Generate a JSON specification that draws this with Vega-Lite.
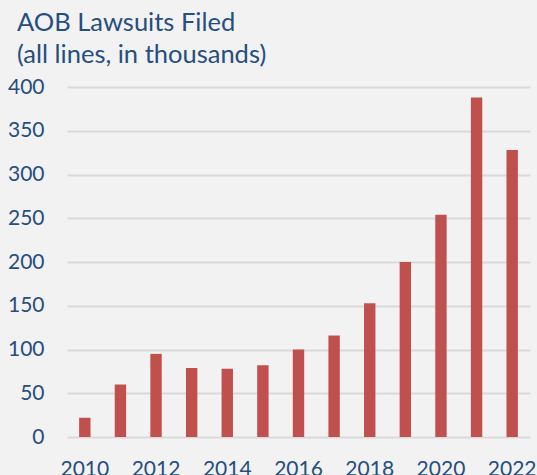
{
  "$schema": "https://vega.github.io/schema/vega-lite/v6.json",
  "autosize": "none",
  "width": 463,
  "height": 350,
  "padding": {"left": 67, "top": 87, "right": 7, "bottom": 38},
  "background": "#F2F2F2",
  "title": {
    "text": ["AOB Lawsuits Filed", "(all lines, in thousands)"],
    "anchor": "start",
    "frame": "group",
    "dx": -50,
    "offset": -12,
    "baseline": "alphabetic",
    "font": "Lato",
    "fontSize": 25.5,
    "fontWeight": "normal",
    "color": "#264E7E",
    "lineHeight": 32
  },
  "data": {
    "values": [
      {"year": 2010, "lawsuits": 22},
      {"year": 2011, "lawsuits": 60},
      {"year": 2012, "lawsuits": 95},
      {"year": 2013, "lawsuits": 79},
      {"year": 2014, "lawsuits": 78},
      {"year": 2015, "lawsuits": 82},
      {"year": 2016, "lawsuits": 100},
      {"year": 2017, "lawsuits": 116},
      {"year": 2018, "lawsuits": 153},
      {"year": 2019, "lawsuits": 200},
      {"year": 2020, "lawsuits": 254},
      {"year": 2021, "lawsuits": 388},
      {"year": 2022, "lawsuits": 328}
    ]
  },
  "mark": {"type": "bar", "color": "#C0504D"},
  "encoding": {
    "x": {
      "field": "year",
      "type": "ordinal",
      "scale": {"paddingInner": 0.68, "paddingOuter": 0.34},
      "axis": {
        "title": null,
        "values": [2010, 2012, 2014, 2016, 2018, 2020, 2022],
        "labelAngle": 0,
        "domain": false,
        "ticks": false,
        "labelPadding": 21,
        "labelFont": "Lato",
        "labelFontSize": 21,
        "labelColor": "#264E7E"
      }
    },
    "y": {
      "field": "lawsuits",
      "type": "quantitative",
      "scale": {"domain": [0, 400]},
      "axis": {
        "title": null,
        "values": [0, 50, 100, 150, 200, 250, 300, 350, 400],
        "domain": false,
        "ticks": false,
        "grid": true,
        "gridColor": "#D9D9D9",
        "gridWidth": 2,
        "labelPadding": 23,
        "labelFont": "Lato",
        "labelFontSize": 21,
        "labelColor": "#264E7E"
      }
    }
  },
  "config": {"view": {"stroke": null}}
}
